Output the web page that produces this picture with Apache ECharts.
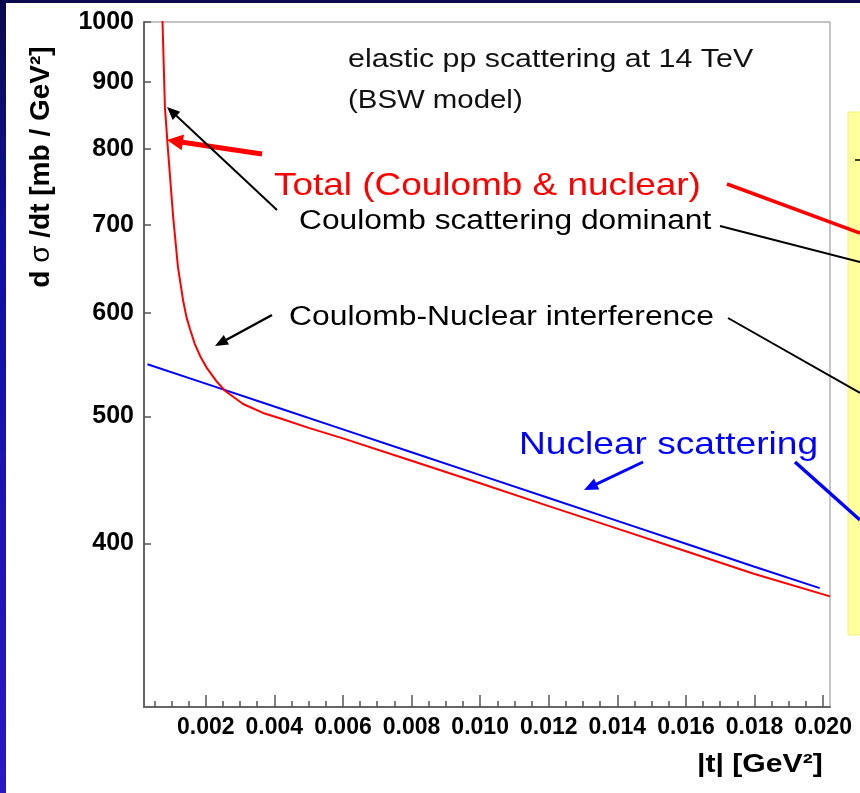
<!DOCTYPE html>
<html><head><meta charset="utf-8">
<script src="https://cdn.jsdelivr.net/npm/echarts@6/dist/echarts.min.js"></script>
<style>html,body{margin:0;padding:0;background:#fff;overflow:hidden}#c{width:860px;height:793px}</style>
</head><body><div id="c"></div>
<script>
// ---- data ----
const tNuclear = [0.0003, 0.002, 0.004, 0.006, 0.008, 0.010, 0.012, 0.014, 0.016, 0.018, 0.0199];
const nuclear  = [548, 529.6, 508.7, 488.7, 469.4, 450.9, 433.2, 416.1, 399.7, 383.9, 369.7];
const tTotal = [0.00070, 0.00074, 0.00081, 0.00090, 0.00105, 0.00119, 0.00134, 0.00144, 0.00154, 0.00168, 0.00185, 0.00202, 0.00231, 0.00256, 0.00309, 0.00367, 0.00416, 0.005, 0.006, 0.008, 0.010, 0.012, 0.014, 0.016, 0.018, 0.0202];
const total  = [1080, 1000, 861, 798, 710, 650, 613, 595, 583, 568, 555, 545, 532, 523, 511, 503, 498.3, 490, 481, 462.5, 444.5, 427, 410.5, 394.5, 379, 364.4];
const xMajorTicks = [0.002, 0.004, 0.006, 0.008, 0.010, 0.012, 0.014, 0.016, 0.018, 0.020];
const xMinorTicks = [0.0005,0.001,0.0015,0.0025,0.003,0.0035,0.0045,0.005,0.0055,0.0065,0.007,0.0075,0.0085,0.009,0.0095,0.0105,0.011,0.0115,0.0125,0.013,0.0135,0.0145,0.015,0.0155,0.0165,0.017,0.0175,0.0185,0.019,0.0195];
const yTicks = [400, 500, 600, 700, 800, 900, 1000];

const FONT = '"Liberation Sans", Arial, Helvetica, sans-serif';
const chart = echarts.init(document.getElementById('c'), null, {renderer: 'canvas'});

function txt(text, x, y, size, color, sx, weight) {
  return {type: 'text', x: x, y: y, scaleX: sx, z: 100,
    style: {text: text, x: 0, y: 0, fill: color, align: 'left', verticalAlign: 'middle',
      font: (weight || 'normal') + ' ' + size + 'px ' + FONT}};
}
function seg(x1, y1, x2, y2, color, w) {
  return {type: 'line', z: 90, shape: {x1: x1, y1: y1, x2: x2, y2: y2}, style: {stroke: color, lineWidth: w}};
}
function arrow(x1, y1, x2, y2, color, w, hl, hw) {
  const dx = x2 - x1, dy = y2 - y1, L = Math.sqrt(dx * dx + dy * dy);
  const ux = dx / L, uy = dy / L, px = -uy, py = ux;
  const bx = x2 - ux * hl, by = y2 - uy * hl;
  return [seg(x1, y1, bx + ux * 2, by + uy * 2, color, w),
    {type: 'polygon', z: 91, shape: {points: [[x2, y2], [bx + px * hw, by + py * hw], [bx - px * hw, by - py * hw]]},
      style: {fill: color}}];
}

const graphics = [
  {type: 'rect', z: 120, shape: {x: 0, y: 0, width: 860, height: 3}, style: {fill: '#0a0a4c'}},
  {type: 'rect', z: 120, shape: {x: 0, y: 0, width: 6, height: 793},
    style: {fill: new echarts.graphic.LinearGradient(0, 0, 0, 1, [{offset: 0, color: '#0a0a4c'}, {offset: 0.3, color: '#1010a0'}, {offset: 1, color: '#2a18c4'}])}},
  {type: 'rect', z: 80, shape: {x: 848, y: 112, width: 14, height: 523}, style: {fill: '#ffff9c', stroke: '#f0f080', lineWidth: 1}},
  seg(855, 160, 860, 160, '#000', 1.5),
  txt('elastic pp scattering at 14 TeV', 348, 60, 26, '#111', 1.168),
  txt('(BSW model)', 348, 101, 26, '#111', 1.13),
  txt('Total (Coulomb & nuclear)', 274, 186, 32, '#ff0000', 1.154),
  txt('Coulomb scattering dominant', 299, 222, 27, '#000', 1.174),
  txt('Coulomb-Nuclear interference', 289, 318, 27, '#000', 1.18),
  txt('Nuclear scattering', 519, 445, 32, '#0000ff', 1.16),
  txt('|t| [GeV²]', 697, 765, 26, '#000', 1.16, 'bold'),
  {type: 'text', x: 41, y: 167, rotation: Math.PI / 2, z: 100,
    style: {text: '{b|d}{s| σ }{b|/dt [mb / GeV²]}', align: 'center', verticalAlign: 'middle',
      rich: {b: {font: 'bold 28px ' + FONT, fill: '#000'}, s: {font: 'normal 28px ' + FONT, fill: '#000'}}}},
  seg(727, 184, 860, 233, '#ff0000', 3.5),
  seg(720, 226, 860, 262, '#000', 2),
  seg(728, 318, 860, 393, '#000', 2),
  seg(795, 462, 860, 520, '#0000ff', 3.5)
].concat(
  arrow(262, 154, 167, 140, '#ff0000', 5, 16, 8),
  arrow(277, 210, 167, 107, '#000', 2, 13, 5.5),
  arrow(272, 315, 215, 346, '#000', 2.5, 13, 5.5),
  arrow(643, 462, 584, 490, '#0000ff', 3, 14, 6)
);

const option = {
  animation: false,
  backgroundColor: '#ffffff',
  grid: {left: 144, right: 30, top: 22, bottom: 86, show: true, borderColor: '#8a8a8a', borderWidth: 1, backgroundColor: 'transparent'},
  xAxis: [
    {type: 'value', min: 0.0002, max: 0.0202, position: 'bottom',
      axisLine: {show: true, onZero: false, lineStyle: {color: '#666', width: 2}},
      axisTick: {show: true, inside: true, length: 12, customValues: xMajorTicks, lineStyle: {color: '#555', width: 1.5}},
      axisLabel: {show: true, customValues: xMajorTicks, margin: 9, color: '#000', fontSize: 23, fontWeight: 'bold', fontFamily: FONT,
        formatter: function (v) { return Number(v).toFixed(3); }},
      splitLine: {show: false}},
    {type: 'value', min: 0.0002, max: 0.0202, position: 'bottom',
      axisLine: {show: false, onZero: false},
      axisTick: {show: true, inside: true, length: 6, customValues: xMinorTicks, lineStyle: {color: '#555', width: 1.5}},
      axisLabel: {show: false}, splitLine: {show: false}}
  ],
  yAxis: {type: 'log', logBase: 10, min: 300, max: 1000,
    axisLine: {show: true, onZero: false, lineStyle: {color: '#666', width: 2}},
    axisTick: {show: true, inside: true, length: 7, customValues: yTicks, lineStyle: {color: '#555', width: 1.5}},
    axisLabel: {show: true, customValues: yTicks, margin: 10, color: '#000', fontSize: 25, fontWeight: 'bold', fontFamily: FONT,
      formatter: function (v) { return String(Math.round(v)); }},
    minorTick: {show: false}, splitLine: {show: false}},
  series: [
    {type: 'line', name: 'Nuclear scattering', xAxisIndex: 0, yAxisIndex: 0, showSymbol: false, clip: true,
      data: tNuclear.map(function (t, i) { return [t, nuclear[i]]; }),
      lineStyle: {color: '#0000ff', width: 2}, itemStyle: {color: '#0000ff'}, z: 3},
    {type: 'line', name: 'Total (Coulomb & nuclear)', xAxisIndex: 0, yAxisIndex: 0, showSymbol: false, clip: true,
      data: tTotal.map(function (t, i) { return [t, total[i]]; }),
      lineStyle: {color: '#ff0000', width: 2}, itemStyle: {color: '#ff0000'}, z: 4}
  ],
  graphic: graphics
};
chart.setOption(option);
</script></body></html>
